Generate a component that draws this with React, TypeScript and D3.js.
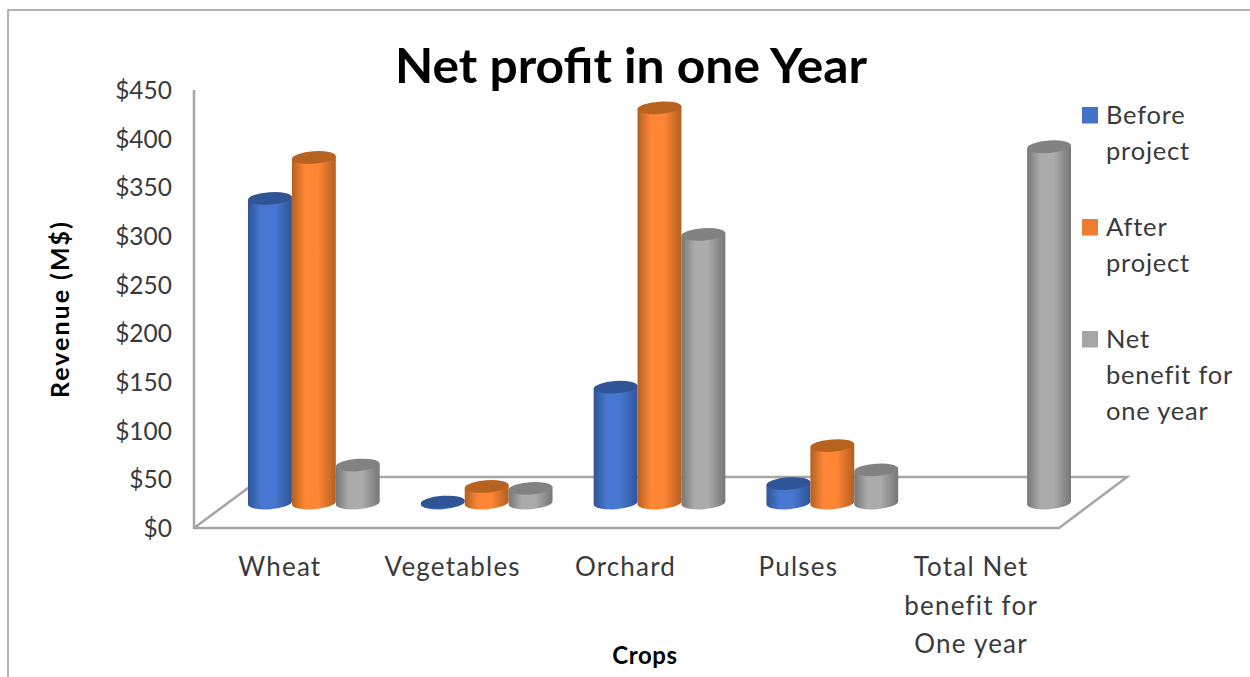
import React from "react";
import * as d3 from "d3";

const categories = ["Wheat", "Vegetables", "Orchard", "Pulses", "Total"];
const categoryLabels = [["Wheat"], ["Vegetables"], ["Orchard"], ["Pulses"], ["Total Net", "benefit for", "One year"]];
const seriesNames = ["before", "after", "net"];
const beforeProject = [313, 1, 119, 20, null];
const afterProject = [355, 17, 406, 59, null];
const netBenefit = [39, 15, 276, 34, 366];
const yTicks = [0, 50, 100, 150, 200, 250, 300, 350, 400, 450];
const legendLabels = [["Before", "project"], ["After", "project"], ["Net", "benefit for", "one year"]];
const edgeColors = ["#2F5597", "#B3601F", "#777777"];
const midColors = ["#4777D0", "#FF8635", "#ABABAB"];
const topColors = ["#2F5597", "#B8621F", "#828282"];
const swatchColors = ["#4472C4", "#ED7D31", "#A5A5A5"];

const FONT = "Lato, 'Open Sans', sans-serif";
const TEXT = "#3a3a3a";

export default function App() {
  const y = d3.scaleLinear().domain([0, 450]).range([528, 90]);
  const x0 = d3.scaleBand<string>().domain(categories).range([248, 1071]).paddingInner(0.238);
  const x1 = d3.scaleBand<string>().domain(seriesNames).range([0, x0.bandwidth()]);
  const rx = x1.bandwidth() / 2;
  const ry = 6.2;
  const tilt = 1.5;
  const depth = 25;
  const series = [beforeProject, afterProject, netBenefit];

  return (
    <svg width={1250} height={677} style={{ position: "absolute", left: 0, top: 0, display: "block" }} fontFamily={FONT}>
      <defs>
        {seriesNames.map((s, i) => (
          <linearGradient key={s} id={`g-${s}`} x1="0" x2="1" y1="0" y2="0">
            <stop offset="0" stopColor={edgeColors[i]} />
            <stop offset="0.3" stopColor={midColors[i]} />
            <stop offset="0.6" stopColor={midColors[i]} />
            <stop offset="1" stopColor={edgeColors[i]} />
          </linearGradient>
        ))}
      </defs>
      <rect width={1250} height={677} fill="#fff" />
      <path d="M8,677 V10 H1250" fill="none" stroke="#9a9a9a" strokeWidth={1.5} />

      <text x={631} y={83} textAnchor="middle" fontSize={48} fontWeight={700} fill="#000" textLength={472} lengthAdjust="spacingAndGlyphs">Net profit in one Year</text>

      <path d={`M194,${y(450)} V${y(0)} H1059 L1127,477 H263 L194,${y(0)}`} fill="none" stroke="#a6a6a6" strokeWidth={2.5} />

      {yTicks.map(t => (
        <text key={t} x={172} y={y(t) + 9} textAnchor="end" fontSize={24.5} fill={TEXT}>{`$${t}`}</text>
      ))}

      {seriesNames.map((s, si) => (
        <g key={s}>
          {categories.map((c, ci) => {
            const v = series[si][ci];
            if (v == null) return null;
            const a = (x0(c) as number) + (x1(s) as number);
            const b = a + x1.bandwidth();
            const cx = (a + b) / 2;
            const yb = y(0) - depth;
            const yt = y(v) - depth;
            const side = `M${a},${yt + tilt}L${a},${yb + tilt}A${rx},${ry} -4 0 0 ${b},${yb - tilt}L${b},${yt - tilt}Z`;
            return (
              <g key={c}>
                <path d={side} fill={`url(#g-${s})`} />
                <ellipse cx={cx} cy={yt} rx={rx} ry={ry} fill={topColors[si]} transform={`rotate(-4 ${cx} ${yt})`} />
              </g>
            );
          })}
        </g>
      ))}

      {categories.map((c, ci) => (
        <text key={c} textAnchor="middle" fontSize={26} letterSpacing={1.2} fill={TEXT}>
          {categoryLabels[ci].map((line, li) => (
            <tspan key={line} x={(x0(c) as number) + x0.bandwidth() / 2 - 34} y={576 + li * 38.5}>{line}</tspan>
          ))}
        </text>
      ))}

      <text transform="translate(69,310) rotate(-90)" textAnchor="middle" fontSize={25} fontWeight={700} fill="#000" textLength={176}>Revenue (M$)</text>
      <text x={645} y={664} textAnchor="middle" fontSize={24} fontWeight={700} letterSpacing={0.6} fill="#000">Crops</text>

      {legendLabels.map((lines, i) => {
        const top = 107 + i * 112;
        return (
          <g key={i}>
            <rect x={1082} y={top} width={16} height={16.5} fill={swatchColors[i]} />
            <text fontSize={25.5} letterSpacing={0.8} fill={TEXT}>
              {lines.map((line, li) => (
                <tspan key={line} x={1106} y={top + 16.5 + li * 36}>{line}</tspan>
              ))}
            </text>
          </g>
        );
      })}
    </svg>
  );
}
